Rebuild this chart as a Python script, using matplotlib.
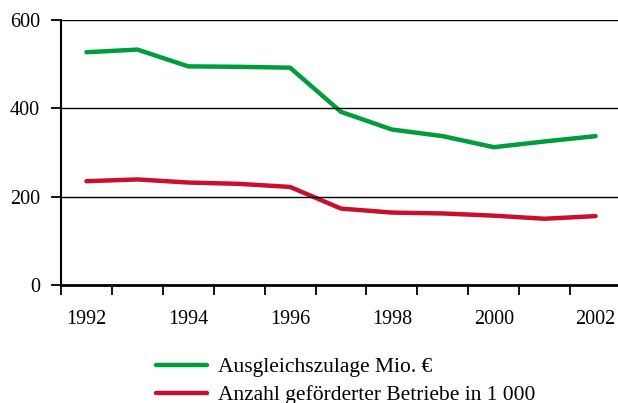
import matplotlib
matplotlib.use("Agg")
import matplotlib.pyplot as plt

years = [1992, 1993, 1994, 1995, 1996, 1997, 1998, 1999, 2000, 2001, 2002]
zulage = [527, 533, 495, 494, 492, 392, 352, 337, 312, 325, 337]
betriebe = [235, 239, 232, 229, 222, 173, 164, 162, 157, 150, 156]
labels = ["Ausgleichszulage Mio. \u20ac", "Anzahl gef\u00f6rderter Betriebe in 1 000"]

plt.rcParams['font.family'] = ['Liberation Serif', 'DejaVu Serif']

fig = plt.figure(figsize=(6.18, 4.03), dpi=100)
ax = fig.add_axes([61 / 618, 118 / 403, 560 / 618, 265 / 403])

x = list(range(len(years)))
ax.plot(x, zulage, color='#009d3c', lw=3.2, solid_capstyle='round', label=labels[0])
ax.plot(x, betriebe, color='#c8102e', lw=3.2, solid_capstyle='round', label=labels[1])

ax.set_ylim(0, 600)
ax.set_yticks([0, 200, 400, 600])
ax.set_xlim(-0.5, 10.5)
ax.set_xticks([i - 0.5 for i in range(12)])
ax.set_xticklabels([])
ax.set_xticks(x[::2], minor=True)
ax.set_xticklabels([str(y) for y in years[::2]], minor=True)
ax.tick_params(axis='x', which='minor', length=0, pad=18, labelsize=14.5)
ax.tick_params(axis='x', which='major', length=7, width=1.3, direction='out')
ax.tick_params(axis='y', length=7, width=1.3, pad=8, labelsize=14.5)

for v in [200, 400, 600]:
    ax.axhline(v, color='black', lw=1)

for s in ['top', 'right']:
    ax.spines[s].set_visible(False)
ax.spines['left'].set_linewidth(1.5)
ax.spines['bottom'].set_linewidth(2)

fig.legend(loc='upper left', bbox_to_anchor=(156 / 618, 1 - 357 / 403), frameon=False,
           fontsize=15.5, handlelength=2.37, handletextpad=0.5, labelspacing=0.38,
           borderpad=0, borderaxespad=0)

fig.savefig("out.png", dpi=100)
